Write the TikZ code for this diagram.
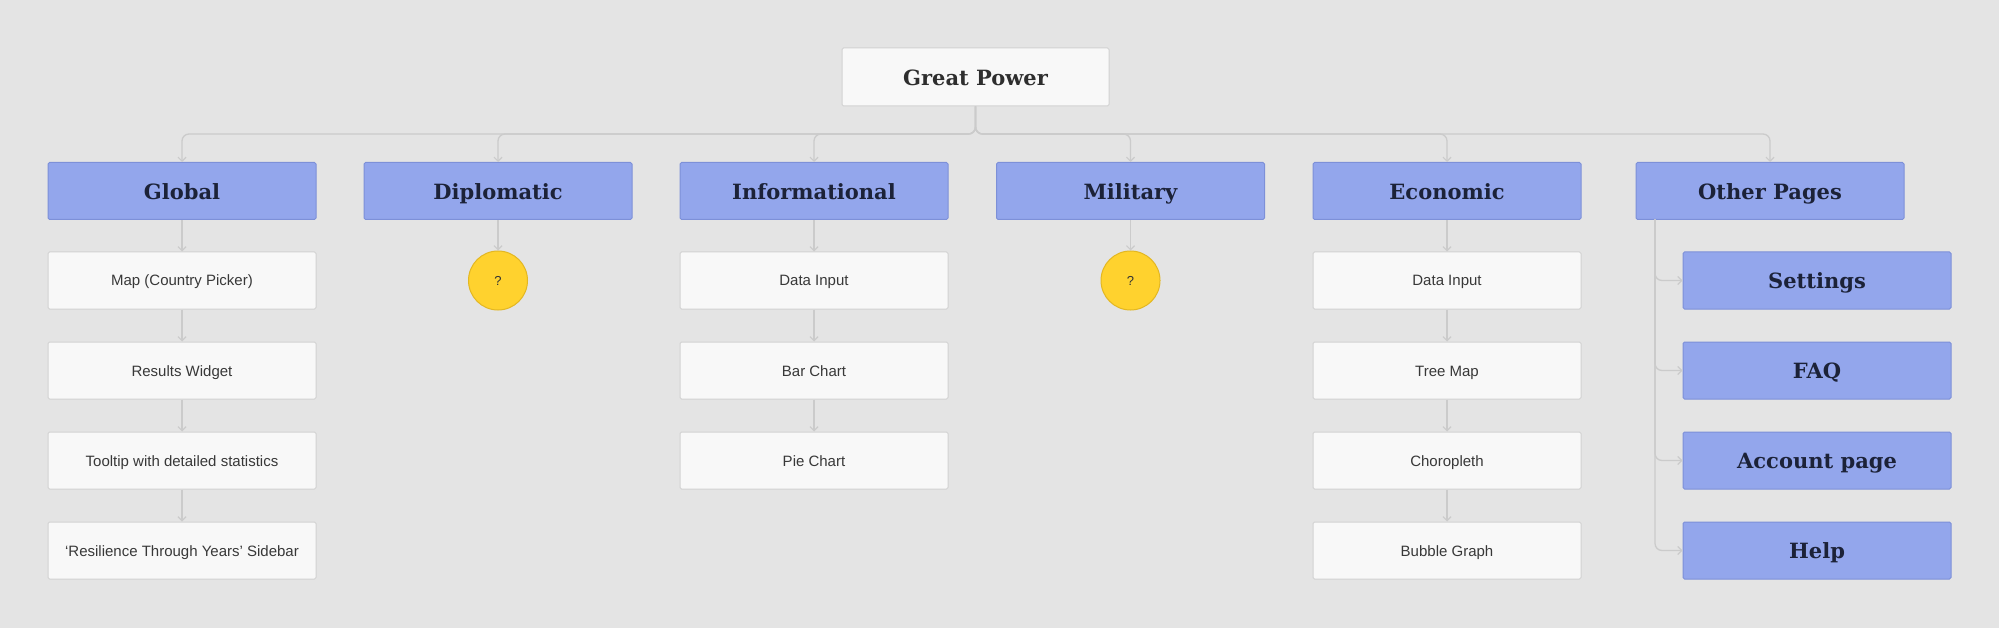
\documentclass[tikz,border=0pt]{standalone}
\usepackage{fontspec}
\usetikzlibrary{arrows.meta}
\newfontfamily\headfont{DejaVu Serif}
\newfontfamily\subfont{Liberation Sans}
\definecolor{bg}{HTML}{E4E4E4}
\definecolor{bluefill}{HTML}{93A6EC}
\definecolor{blueline}{HTML}{7D90D8}
\definecolor{navy}{HTML}{1C2238}
\definecolor{whitefill}{HTML}{F8F8F8}
\definecolor{whiteline}{HTML}{D2D2D2}
\definecolor{connc}{HTML}{CBCBCB}
\definecolor{yel}{HTML}{FFD22E}
\definecolor{yelline}{HTML}{E3B722}
\tikzset{
  catbox/.style={draw=blueline, fill=bluefill, line width=1pt, rounded corners=1.5pt,
    minimum width=268pt, minimum height=57pt, inner sep=0pt, text height=16.5pt, text depth=0pt,
    font=\headfont\bfseries\fontsize{21}{24}\selectfont, text=navy},
  topbox/.style={draw=whiteline, fill=whitefill, line width=1pt, rounded corners=1.5pt,
    minimum width=267pt, minimum height=58pt, inner sep=0pt, text height=16.5pt, text depth=0pt,
    font=\headfont\bfseries\fontsize{21}{24}\selectfont, text=black!82},
  subbox/.style={draw=whiteline, fill=whitefill, line width=1pt, rounded corners=1.5pt,
    minimum width=268pt, minimum height=57pt, inner sep=0pt, text height=11pt, text depth=0pt,
    font=\subfont\fontsize{15}{18}\selectfont, text=black!78},
  qcirc/.style={circle, draw=yelline, fill=yel, line width=1pt, minimum size=59pt, inner sep=0pt,
    font=\subfont\fontsize{13}{15}\selectfont, text=black!80},
  conn/.style={draw=connc, line width=1.3pt},
  arr/.style={-{Straight Barb[length=4pt,width=8pt,line width=1.2pt]}},
}
\begin{document}
\begin{tikzpicture}[x=1pt,y=-1pt]
\fill[bg] (0,0) rectangle (1999,628);
\useasboundingbox (0,0) rectangle (1999,628);

\coordinate (bus) at (0,134);

\node[topbox] (gp) at (975.5,77) {Great Power};

\node[catbox] (global) at (182,191) {Global};
\node[catbox] (dip) at (498,191) {Diplomatic};
\node[catbox] (info) at (814,191) {Informational};
\node[catbox] (mil) at (1130.5,191) {Military};
\node[catbox] (eco) at (1447,191) {Economic};
\node[catbox] (other) at (1770,191) {Other Pages};

% bus connectors
\foreach \n in {global,dip,info,mil,eco,other}{
  \draw[conn,arr,rounded corners=7pt] (gp.south) -- (gp.south |- bus) -- (\n.north |- bus) -- (\n.north);
}

% Global column
\node[subbox] (g1) at (182,280.5) {Map (Country Picker)};
\node[subbox] (g2) at (182,370.5) {Results Widget};
\node[subbox] (g3) at (182,460.5) {Tooltip with detailed statistics};
\node[subbox] (g4) at (182,550.5) {‘Resilience Through Years’ Sidebar};
\draw[conn,arr] (global.south) -- (g1.north);
\draw[conn,arr] (g1.south) -- (g2.north);
\draw[conn,arr] (g2.south) -- (g3.north);
\draw[conn,arr] (g3.south) -- (g4.north);

% Diplomatic
\node[qcirc] (dq) at (498,280.5) {?};
\draw[conn,arr] (dip.south) -- (dq.north);

% Informational
\node[subbox] (i1) at (814,280.5) {Data Input};
\node[subbox] (i2) at (814,370.5) {Bar Chart};
\node[subbox] (i3) at (814,460.5) {Pie Chart};
\draw[conn,arr] (info.south) -- (i1.north);
\draw[conn,arr] (i1.south) -- (i2.north);
\draw[conn,arr] (i2.south) -- (i3.north);

% Military
\node[qcirc] (mq) at (1130.5,280.5) {?};
\draw[conn,arr] (mil.south) -- (mq.north);

% Economic
\node[subbox] (e1) at (1447,280.5) {Data Input};
\node[subbox] (e2) at (1447,370.5) {Tree Map};
\node[subbox] (e3) at (1447,460.5) {Choropleth};
\node[subbox] (e4) at (1447,550.5) {Bubble Graph};
\draw[conn,arr] (eco.south) -- (e1.north);
\draw[conn,arr] (e1.south) -- (e2.north);
\draw[conn,arr] (e2.south) -- (e3.north);
\draw[conn,arr] (e3.south) -- (e4.north);

% Other Pages
\node[catbox] (o1) at (1817,280.5) {Settings};
\node[catbox] (o2) at (1817,370.5) {FAQ};
\node[catbox] (o3) at (1817,460.5) {Account page};
\node[catbox] (o4) at (1817,550.5) {Help};
\coordinate (otrunk) at (1655,219.5);
\foreach \n in {o1,o2,o3,o4}{
  \draw[conn,arr,rounded corners=7pt] (otrunk) |- (\n.west);
}
\end{tikzpicture}
\end{document}
